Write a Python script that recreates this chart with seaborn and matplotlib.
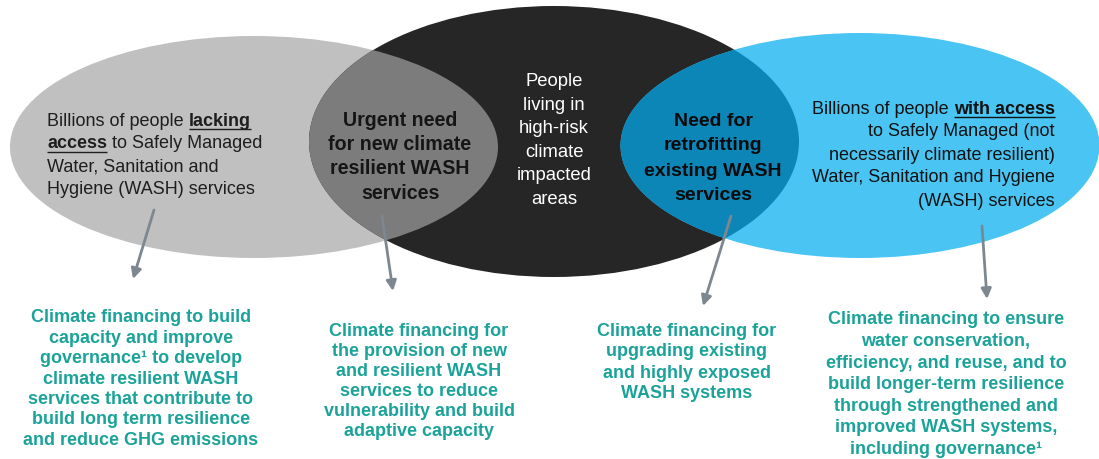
import matplotlib
matplotlib.use("Agg")
import matplotlib.pyplot as plt
from matplotlib.patches import Ellipse
import seaborn as sns

sns.set_theme(style="white")
plt.rcParams['font.family'] = ['Liberation Sans', 'DejaVu Sans']

# ---------------- data (texts) ----------------
set_names = ["lacking access", "high-risk areas", "with access"]
set_colors = ["#c0c0c0", "#262626", "#4ac5f3"]
overlap_colors = ["#7c7c7c", "#0b86b7"]

gray_runs = [
    [("Billions of people ", False, False), ("lacking", True, True)],
    [("access", True, True), (" to Safely Managed", False, False)],
    [("Water, Sanitation and", False, False)],
    [("Hygiene (WASH) services", False, False)],
]
blue_runs = [
    [("Billions of people ", False, False), ("with access", True, True)],
    [("to Safely Managed (not", False, False)],
    [("necessarily climate resilient)", False, False)],
    [("Water, Sanitation and Hygiene", False, False)],
    [("(WASH) services", False, False)],
]
center_lines = ["People", "living in", "high-risk", "climate", "impacted", "areas"]
overlap1_lines = ["Urgent need", "for new climate", "resilient WASH", "services"]
overlap2_lines = ["Need for", "retrofitting", "existing WASH", "services"]

finance_1 = ["Climate financing to build", "capacity and improve",
             "governance\u00b9 to develop", "climate resilient WASH",
             "services that contribute to", "build long term resilience",
             "and reduce GHG emissions"]
finance_2 = ["Climate financing for", "the provision of new",
             "and resilient WASH", "services to reduce",
             "vulnerability and build", "adaptive capacity"]
finance_3 = ["Climate financing for", "upgrading existing",
             "and highly exposed", "WASH systems"]
finance_4 = ["Climate financing to ensure", "water conservation,",
             "efficiency, and reuse, and to", "build longer-term resilience",
             "through strengthened and", "improved WASH systems,",
             "including governance\u00b9"]

# ---------------- layout ----------------
W, H = 1099, 459
fig = plt.figure(figsize=(W / 100, H / 100), dpi=100)
ax = fig.add_axes([0, 0, 1, 1])
ax.set_xlim(0, W)
ax.set_ylim(H, 0)
ax.axis('off')

ell_geom = [((254, 147), 488, 222), ((554, 141.5), 490, 271), ((860, 145.5), 479, 225)]
patches = []
for (c, w, h), col in zip(ell_geom, set_colors):
    e = Ellipse(c, w, h, facecolor=col, edgecolor='none', zorder=1)
    ax.add_patch(e)
    patches.append(e)
patches[2].set_zorder(2)
for idx, col in zip([0, 2], overlap_colors):
    c, w, h = ell_geom[idx]
    ov = Ellipse(c, w, h, facecolor=col, edgecolor='none', zorder=3)
    ax.add_patch(ov)
    ov.set_clip_path(patches[1])

renderer = fig.canvas.get_renderer()


def text_width(s, size, bold):
    t = ax.text(0, 0, s, fontsize=size, fontweight='bold' if bold else 'normal')
    w = t.get_window_extent(renderer=renderer).width
    t.remove()
    return w


def draw_runs(x, y, runs, ha, size, color):
    space = text_width("a a", size, False) - text_width("aa", size, False)
    widths = [text_width(s.strip(), size, b) for s, b, u in runs]
    total = 0
    for (s, b, u), w in zip(runs, widths):
        total += w + space * ((s != s.lstrip()) + (s != s.rstrip()))
    if ha == 'left':
        cur = x
    elif ha == 'right':
        cur = x - total
    else:
        cur = x - total / 2
    for (s, b, u), w in zip(runs, widths):
        if s != s.lstrip():
            cur += space
        ax.text(cur, y, s.strip(), fontsize=size, fontweight='bold' if b else 'normal',
                color=color, ha='left', va='center', zorder=5)
        if u:
            yy = y + size * 0.62
            ax.plot([cur, cur + w], [yy, yy], color=color, lw=1.0, zorder=5,
                    solid_capstyle='butt')
        cur += w
        if s != s.rstrip():
            cur += space


for i, runs in enumerate(gray_runs):
    draw_runs(47, 121 + 23 * i, runs, 'left', 13, '#1e1e1e')
for i, runs in enumerate(blue_runs):
    draw_runs(1055, 109 + 23 * i, runs, 'right', 13, '#111111')

for i, s in enumerate(center_lines):
    ax.text(554, 82 + 23.4 * i, s, fontsize=13.3, color='white', ha='center', va='center', zorder=5)
for i, s in enumerate(overlap1_lines):
    ax.text(400, 120 + 24.5 * i, s, fontsize=14.1, fontweight='bold', color='#151515',
            ha='center', va='center', zorder=5)
for i, s in enumerate(overlap2_lines):
    ax.text(713, 121 + 25 * i, s, fontsize=14.0, fontweight='bold', color='#0a0a0a',
            ha='center', va='center', zorder=5)

teal = '#1ba39a'
blocks = [(finance_1, 141, 318, 20.4), (finance_2, 419, 332, 20.0),
          (finance_3, 687, 331, 21.0), (finance_4, 946, 320, 21.6)]
for lines, cx, y0, dy in blocks:
    for i, s in enumerate(lines):
        ax.text(cx, y0 + dy * i, s, fontsize=13, fontweight='bold', color=teal,
                ha='center', va='center', zorder=5)

arrows = [((154, 210), (133, 279)), ((382, 216), (393, 291)),
          ((731, 216), (703, 306)), ((982, 226), (987, 299))]
for (x0, y0), (x1, y1) in arrows:
    ax.annotate("", xy=(x1, y1), xytext=(x0, y0),
                arrowprops=dict(arrowstyle='-|>,head_length=0.5,head_width=0.25',
                                color='#7d8790', lw=2.0, shrinkA=0, shrinkB=0),
                zorder=6)

fig.savefig("out.png", dpi=100)
